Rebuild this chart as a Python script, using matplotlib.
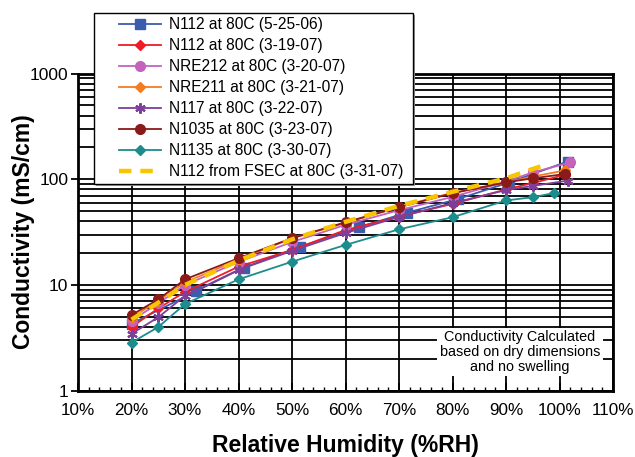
import matplotlib
matplotlib.use('Agg')
import matplotlib.pyplot as plt
from matplotlib.patches import Rectangle
from matplotlib.ticker import FixedLocator, LogLocator, NullFormatter, FixedFormatter

plt.rcParams['font.family'] = ['Liberation Sans', 'DejaVu Sans']

# ---------------- data ----------------
labels = ["N112 at 80C (5-25-06)", "N112 at 80C (3-19-07)", "NRE212 at 80C (3-20-07)",
          "NRE211 at 80C (3-21-07)", "N117 at 80C (3-22-07)", "N1035 at 80C (3-23-07)",
          "N1135 at 80C (3-30-07)", "N112 from FSEC at 80C (3-31-07)"]

rh_n112_06 = [20, 32, 41, 51.5, 62.5, 71.5, 81, 90.5, 101.5]
c_n112_06 = [4.3, 8.7, 14.6, 23.0, 35.2, 48.3, 65, 93, 147]

rh_n112_07 = [20, 25, 30, 40, 50, 60, 70, 80, 90, 95, 101]
c_n112_07 = [4.0, 6.0, 8.6, 14.9, 21.4, 33.1, 44.3, 58.4, 80, 92, 110]

rh_nre212 = [20, 25, 30, 40, 50, 60, 70, 80, 90, 95, 102]
c_nre212 = [4.6, 6.7, 10.0, 16.5, 25.5, 37.0, 51.0, 68, 95, 116, 144]

rh_nre211 = [20, 25, 30, 40, 50, 60, 70, 80, 90, 95, 101]
c_nre211 = [4.9, 7.1, 10.6, 17.3, 27.7, 38.5, 54.8, 74.5, 93, 106, 121]

rh_n117 = [20, 25, 30, 40, 50, 60, 70, 80, 90, 95, 101.5]
c_n117 = [3.45, 4.95, 7.9, 13.9, 21.0, 31.0, 44.0, 59.5, 79, 86.4, 97]

rh_n1035 = [20, 25, 30, 40, 50, 60, 70, 80, 90, 95, 101]
c_n1035 = [5.2, 7.3, 11.3, 17.9, 27.7, 39.2, 54.3, 73.7, 93.5, 102, 112]

rh_n1135 = [20, 25, 30, 40, 50, 60, 70, 80, 90, 95, 99]
c_n1135 = [2.85, 4.0, 6.6, 11.3, 16.6, 23.9, 33.6, 43.7, 63, 67.6, 74]

rh_fsec = [20, 25, 30, 40, 50, 60, 70, 80, 90, 97.5]
c_fsec = [4.7, 6.8, 10.0, 17.0, 27.0, 39.5, 56, 76, 102, 138]

x_ticks = [10, 20, 30, 40, 50, 60, 70, 80, 90, 100, 110]
x_ticklabels = ["10%", "20%", "30%", "40%", "50%", "60%", "70%", "80%", "90%", "100%", "110%"]
y_ticks = [1, 10, 100, 1000]
y_ticklabels = ["1", "10", "100", "1000"]

note = "Conductivity Calculated\nbased on dry dimensions\nand no swelling"

# ---------------- figure ----------------
W, H = 635, 457
fig = plt.figure(figsize=(W / 100, H / 100), dpi=100)
ax = fig.add_axes([78 / W, 1 - 390.7 / H, (613 - 78) / W, (390.7 - 73.5) / H])

ax.set_yscale('log')
ax.set_xlim(10, 110)
ax.set_ylim(1, 1000)

styles = [
    dict(color='#3A5DAE', marker='s', ms=6.8),
    dict(color='#EE1C25', marker='D', ms=4.8),
    dict(color='#C462BE', marker='o', ms=7),
    dict(color='#F47B20', marker='D', ms=4.8),
    dict(color='#7E3F98', marker=(6, 2, 0), ms=7.5, mew=1.5),
    dict(color='#8B1A1A', marker='o', ms=7),
    dict(color='#1C8C8C', marker='D', ms=4.8),
]
series = [(rh_n112_06, c_n112_06), (rh_n112_07, c_n112_07), (rh_nre212, c_nre212),
          (rh_nre211, c_nre211), (rh_n117, c_n117), (rh_n1035, c_n1035), (rh_n1135, c_n1135)]

handles = []
for (x, y), st, lab in zip(series, styles, labels[:7]):
    ln, = ax.plot(x, y, lw=1.3, zorder=3, label=lab, **st)
    handles.append(ln)
ln, = ax.plot(rh_fsec, c_fsec, color='#F7C600', lw=3.2, ls=(0, (2.8, 2.0)), zorder=4,
              label=labels[7])
handles.append(ln)

# axes, ticks, grid
ax.xaxis.set_major_locator(FixedLocator(x_ticks))
ax.xaxis.set_major_formatter(FixedFormatter(x_ticklabels))
ax.xaxis.set_minor_locator(FixedLocator([v for v in range(10, 111, 2) if v % 10]))
ax.yaxis.set_major_locator(FixedLocator(y_ticks))
ax.yaxis.set_major_formatter(FixedFormatter(y_ticklabels))
ax.yaxis.set_minor_locator(LogLocator(base=10, subs=range(2, 10)))
ax.yaxis.set_minor_formatter(NullFormatter())

ax.grid(True, which='major', axis='x', color='black', lw=1.3)
ax.grid(True, which='both', axis='y', color='black', lw=1.3)
ax.set_axisbelow(True)

for sp in ax.spines.values():
    sp.set_linewidth(2)

ax.tick_params(axis='x', which='major', direction='in', length=6, width=1.3, pad=9,
               labelsize=12.3)
ax.tick_params(axis='x', which='minor', direction='in', length=3, width=1.0)
ax.tick_params(axis='y', which='major', direction='out', length=5, width=1.3, pad=2,
               labelsize=12.5)
ax.tick_params(axis='y', which='minor', length=0)

ax.set_xlabel("Relative Humidity (%RH)", fontsize=16.5, fontweight='bold')
ax.set_ylabel("Conductivity (mS/cm)", fontsize=16.5, fontweight='bold')
ax.xaxis.set_label_coords(0.5, -0.135)
ax.yaxis.set_label_coords(-0.08, 0.5)

ax.text(0.826, 0.122, note, transform=ax.transAxes, ha='center', va='center',
        fontsize=10.4, linespacing=1.05, zorder=5,
        bbox=dict(facecolor='white', edgecolor='none', pad=2))

# legend box
x0, y0, x1, y1 = 94, 13, 413, 184
fig.patches.append(Rectangle(((x0 + 2) / W, 1 - (y1 + 2) / H), (x1 - x0) / W, (y1 - y0) / H,
                             transform=fig.transFigure, facecolor='#9a9a9a',
                             edgecolor='none', zorder=3))
fig.patches.append(Rectangle((x0 / W, 1 - y1 / H), (x1 - x0) / W, (y1 - y0) / H,
                             transform=fig.transFigure, facecolor='white',
                             edgecolor='black', lw=1.0, zorder=4))
leg = fig.legend(handles=handles, labels=labels, loc='upper left',
                 bbox_to_anchor=(119 / W, 1 - 17 / H), frameon=False, fontsize=11.2,
                 handlelength=2.7, handletextpad=0.5, labelspacing=0.39,
                 borderpad=0, borderaxespad=0)
leg.set_zorder(5)

fig.savefig('out.png', dpi=100)
